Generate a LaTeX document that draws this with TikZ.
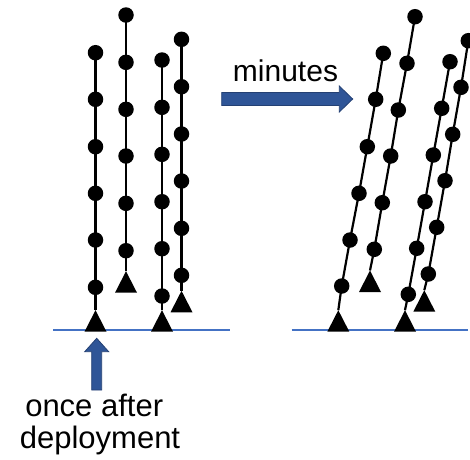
\documentclass[tikz,border=0pt]{standalone}
\usepackage{fontspec}
\setmainfont{Liberation Sans}
\usetikzlibrary{backgrounds}
\definecolor{floor}{RGB}{68,114,196}
\definecolor{arrowfill}{RGB}{47,85,151}
\definecolor{arrowedge}{RGB}{36,64,115}
\begin{document}
\begin{tikzpicture}[x=1pt,y=-1pt,
  dot/.style={circle,fill=black,inner sep=0pt,minimum size=15.5pt},
  wire/.style={line width=2.2pt,black},
  floorline/.style={floor,line width=1.5pt},
  bigarrow/.style={fill=arrowfill,draw=arrowedge,line width=0.8pt},
  lbl/.style={anchor=base,inner sep=0pt}]
\useasboundingbox (0,0) rectangle (470,459);
% floor lines
\coordinate (fl1) at (53,330); \coordinate (fl2) at (230,330);
\coordinate (fr1) at (291.7,330); \coordinate (fr2) at (467.7,330);
\draw[floorline] (fl1) -- (fl2);
\draw[floorline] (fr1) -- (fr2);
% \mooring{name}{apex x}{base y}{list of dot coords}
\newcommand{\mooring}[4]{%
  \coordinate (#1t) at (#2,#3-21.5);
  \fill (#2-11,#3) -- (#2+11,#3) -- (#1t) -- cycle;
  \foreach \p [count=\i] in {#4} {\node[dot] (#1\i) at \p {};}
  \begin{pgfonlayer}{background}
  \draw[wire] (#1t) -- (#11.center) -- (#12.center) -- (#13.center) -- (#14.center) -- (#15.center) -- (#16.center);
  \end{pgfonlayer}
}
% left panel (vertical)
\mooring{a}{95.5}{331.7}{(95.5,287.3),(95.5,240),(95.5,193.3),(95.5,146.7),(95.5,99.3),(95.5,52.7)}
\mooring{b}{126}{292.7}{(126,250.7),(126,203.3),(126,156),(126,109.3),(126,62.3),(126,15)}
\mooring{c}{162}{331.7}{(162,296),(162,248.7),(162,201.7),(162,154.3),(162,107.3),(162,60)}
\mooring{d}{181.5}{312.3}{(181.5,275.3),(181.5,228.3),(181.5,181),(181.5,134),(181.5,86.7),(181.5,39.3)}
% right panel (tilted)
\mooring{e}{338.3}{331.7}{(341.7,286),(350,240),(359,193.3),(367.3,146.7),(375.7,99.3),(383.3,53.3)}
\mooring{f}{370}{292}{(374.3,249.3),(382.3,202.7),(390.7,156),(398.3,110),(407,63.3),(415,16.7)}
\mooring{g}{405}{331.7}{(408.3,294.3),(416.7,248.3),(425,201.7),(433.3,155),(441.7,108.3),(450,61.7)}
\mooring{h}{424.3}{311.7}{(428.3,274),(436.7,227.3),(445,180.7),(452.7,134.3),(461,87.3),(468.3,40.7)}
% minutes arrow
\draw[bigarrow] (221.7,92.5) -- (339.3,92.5) -- (339.3,86) -- (352.7,99) -- (339.3,112) -- (339.3,105.5) -- (221.7,105.5) -- cycle;
\node[lbl,font=\fontsize{30}{36}\selectfont] (minutes) at (285.5,81.7) {minutes};
% deployment arrow
\draw[bigarrow] (91.7,390) -- (91.7,351.7) -- (84.7,351.7) -- (96.7,338.3) -- (108.7,351.7) -- (101.7,351.7) -- (101.7,390) -- cycle;
\node[lbl,font=\fontsize{31}{36}\selectfont] (once) at (94.2,416.7) {once after};
\node[lbl,font=\fontsize{31}{36}\selectfont] (deploy) at (100,448.3) {deployment};
\end{tikzpicture}
\end{document}
